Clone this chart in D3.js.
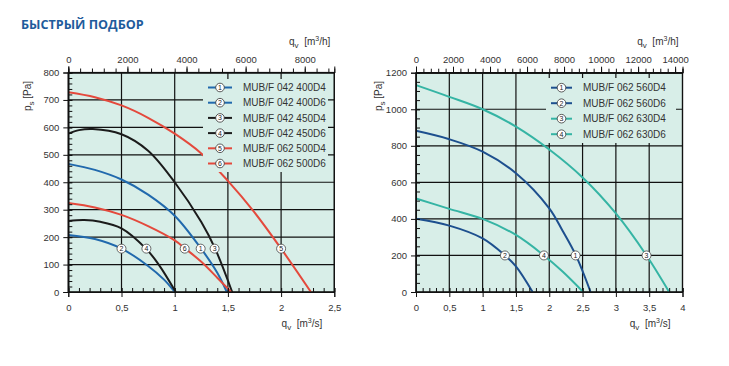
<!DOCTYPE html>
<html>
<head>
<meta charset="utf-8">
<script src="https://cdn.jsdelivr.net/npm/d3@7/dist/d3.min.js"></script>
<style>
    body { margin: 0; background: #fff; }
    text { font-family: "Liberation Sans", Arial, sans-serif; }
</style>
</head>
<body>
<svg id="chart" width="729" height="366"></svg>
<script>
// ---- data (q in m3/s, p in Pa) ----
var leftNames = ['MUB/F 042 400D4', 'MUB/F 042 400D6', 'MUB/F 042 450D4',
    'MUB/F 042 450D6', 'MUB/F 062 500D4', 'MUB/F 062 500D6'];
var left400D4 = [[0, 467], [0.25, 445], [0.5, 410], [0.75, 355], [1.0, 278], [1.25, 157], [1.4, 70], [1.49, 0]];
var left400D6 = [[0, 208], [0.25, 193], [0.5, 158], [0.75, 95], [0.9, 45], [1.0, 0]];
var left450D4 = [[0, 577], [0.1, 590], [0.23, 594], [0.5, 575], [0.75, 515], [1.0, 400], [1.25, 255], [1.38, 158], [1.54, 0]];
var left450D6 = [[0, 259], [0.15, 262], [0.3, 256], [0.5, 232], [0.73, 158], [0.85, 100], [1.01, 0]];
var left500D4 = [[0, 728], [0.25, 710], [0.5, 680], [0.75, 635], [1.0, 577], [1.25, 505], [1.5, 405], [1.75, 290], [2.0, 158], [2.28, 0]];
var left500D6 = [[0, 324], [0.25, 308], [0.5, 281], [0.75, 240], [1.0, 188], [1.1, 158], [1.25, 110], [1.4, 52], [1.53, 0]];
var leftSeries = [left400D4, left400D6, left450D4, left450D6, left500D4, left500D6];
// numbered markers on the curves: [q, p, number]
var leftMarkers = [[0.5, 158, '2'], [0.734, 158, '4'], [1.094, 158, '6'], [1.244, 158, '1'], [1.375, 158, '3'], [2.0, 158, '5']];

var rightNames = ['MUB/F 062 560D4', 'MUB/F 062 560D6', 'MUB/F 062 630D4', 'MUB/F 062 630D6'];
var right560D4 = [[0, 882], [0.5, 836], [1.0, 768], [1.5, 650], [2.0, 458], [2.2, 335], [2.4, 200], [2.62, 0]];
var right560D6 = [[0, 401], [0.5, 363], [1.0, 293], [1.335, 200], [1.5, 140], [1.75, 0]];
var right630D4 = [[0, 1132], [0.5, 1068], [1.0, 1000], [1.5, 905], [2.0, 780], [2.5, 627], [3.0, 430], [3.46, 200], [3.8, 0]];
var right630D6 = [[0, 512], [0.5, 455], [1.0, 400], [1.5, 312], [1.92, 200], [2.2, 112], [2.51, 0]];
var rightSeries = [right560D4, right560D6, right630D4, right630D6];
var rightMarkers = [[1.335, 200, '2'], [1.92, 200, '4'], [2.395, 200, '1'], [3.46, 200, '3']];

// ticks
var leftQsTicks = [0, 0.5, 1, 1.5, 2, 2.5];
var leftQhTicks = [0, 2000, 4000, 6000, 8000];
var leftPTicks = [0, 100, 200, 300, 400, 500, 600, 700, 800];
var rightQsTicks = [0, 0.5, 1, 1.5, 2, 2.5, 3, 3.5, 4];
var rightQhTicks = [0, 2000, 4000, 6000, 8000, 10000, 12000, 14000];
var rightPTicks = [0, 200, 400, 600, 800, 1000, 1200];

var svg = d3.select('#chart');

var comma = function (d) {
    return String(d).replace('.', ',');
};

var range = function (a, b, step) {
    var out = [];
    for (var i = 0; a + i * step <= b + 1e-9; i++) {
        out.push(+(a + i * step).toFixed(4));
    }
    return out;
};

svg.append('text')
    .attr('x', 21).attr('y', 29)
    .style('font-family', '"Open Sans", sans-serif')
    .style('font-weight', 'bold')
    .style('font-size', '12.6px')
    .style('fill', '#1f5c9c')
    .text('БЫСТРЫЙ ПОДБОР');

var drawPanel = function (p) {
    var g = svg.append('g');
    var x = d3.scaleLinear().domain([0, p.xMax]).range([p.left, p.right]);
    var y = d3.scaleLinear().domain([0, p.yMax]).range([p.bottom, p.top]);
    var xh = d3.scaleLinear().domain([0, p.xMax * 3600]).range([p.left, p.right]);

    g.append('rect')
        .attr('x', p.left).attr('y', p.top)
        .attr('width', p.right - p.left).attr('height', p.bottom - p.top)
        .style('fill', '#d8eee8');

    // grid
    g.selectAll('line.vg').data(p.qsTicks).enter().append('line')
        .attr('x1', x).attr('x2', x)
        .attr('y1', p.top).attr('y2', p.bottom)
        .style('stroke', '#111').style('stroke-width', 1.2);
    g.selectAll('line.hg').data(p.pTicks).enter().append('line')
        .attr('x1', p.left).attr('x2', p.right)
        .attr('y1', y).attr('y2', y)
        .style('stroke', '#111').style('stroke-width', 1.2);

    // curves
    var line = d3.line()
        .x(function (d) { return x(d[0]); })
        .y(function (d) { return y(d[1]); })
        .curve(d3.curveCatmullRom.alpha(0.5));
    g.selectAll('path.curve').data(p.series).enter().append('path')
        .attr('d', line)
        .style('fill', 'none')
        .style('stroke', function (d, i) { return p.colors[i]; })
        .style('stroke-width', 2);

    // legend box hides grid and curves behind it
    var lg = g.append('g');
    lg.append('rect')
        .attr('x', p.legend[0]).attr('y', p.legend[1])
        .attr('width', p.legend[2]).attr('height', p.legend[3])
        .style('fill', '#d8eee8');
    var row = lg.selectAll('g.row').data(p.names).enter().append('g')
        .attr('transform', function (d, i) {
            return 'translate(' + (p.legend[0] + 5) + ',' + (p.legendRow0 + i * p.legendStep) + ')';
        });
    row.append('line')
        .attr('x1', 0).attr('x2', p.symW).attr('y1', 0).attr('y2', 0)
        .style('stroke', function (d, i) { return p.colors[i]; })
        .style('stroke-width', 2);
    row.append('circle')
        .attr('cx', p.symW / 2).attr('cy', 0).attr('r', 4.3)
        .style('fill', '#fff').style('stroke', '#333').style('stroke-width', 0.8);
    row.append('text')
        .attr('x', p.symW / 2).attr('y', 2.5)
        .attr('text-anchor', 'middle')
        .style('font-size', '7px').style('fill', '#222')
        .text(function (d, i) { return i + 1; });
    row.append('text')
        .attr('x', p.symW + 11).attr('y', 3.6)
        .style('font-size', '10px').style('fill', '#333')
        .text(function (d) { return d; });

    // numbered markers on the curves
    var mk = g.selectAll('g.mk').data(p.markers).enter().append('g')
        .attr('transform', function (d) {
            return 'translate(' + x(d[0]) + ',' + y(d[1]) + ')';
        });
    mk.append('circle').attr('r', 4.5)
        .style('fill', '#fff').style('stroke', '#444').style('stroke-width', 0.8);
    mk.append('text').attr('y', 2.5).attr('text-anchor', 'middle')
        .style('font-size', '7px').style('fill', '#222')
        .text(function (d) { return d[2]; });

    // frame
    g.append('rect')
        .attr('x', p.left).attr('y', p.top)
        .attr('width', p.right - p.left).attr('height', p.bottom - p.top)
        .style('fill', 'none').style('stroke', '#111').style('stroke-width', 1.2);

    // bottom axis, m3/s
    g.append('g').attr('transform', 'translate(0,' + p.bottom + ')')
        .call(d3.axisBottom(x).tickValues(range(0, p.xMax, 0.1)).tickSize(-4).tickFormat(''));
    var bottomMajor = g.append('g').attr('transform', 'translate(0,' + p.bottom + ')')
        .call(d3.axisBottom(x).tickValues(p.qsTicks).tickSize(5).tickPadding(7).tickFormat(comma));
    bottomMajor.selectAll('.tick line').attr('y1', -4);

    // top axis, m3/h
    g.append('g').attr('transform', 'translate(0,' + p.top + ')')
        .call(d3.axisTop(xh).tickValues(range(0, p.xMax * 3600, 400)).tickSize(4).tickFormat(''));
    g.append('g').attr('transform', 'translate(0,' + p.top + ')')
        .call(d3.axisTop(xh).tickValues(p.qhTicks).tickSize(6).tickPadding(4).tickFormat(String));

    // left axis, Pa
    g.append('g').attr('transform', 'translate(' + p.left + ',0)')
        .call(d3.axisLeft(y).tickValues(range(0, p.yMax, p.pMinor)).tickSize(-4).tickFormat(''));
    var leftMajor = g.append('g').attr('transform', 'translate(' + p.left + ',0)')
        .call(d3.axisLeft(y).tickValues(p.pTicks).tickSize(5).tickPadding(4).tickFormat(String));
    leftMajor.selectAll('.tick line').attr('x1', 4);

    g.selectAll('.domain').style('stroke', '#111');
    g.selectAll('.tick line').style('stroke', '#111');
    g.selectAll('.tick text')
        .style('font-family', '"Liberation Sans", Arial, sans-serif')
        .style('font-size', '9.5px').style('fill', '#333');

    // axis titles
    var qTitle = function (xr, yb, unit) {
        var t = g.append('text').attr('x', xr).attr('y', yb)
            .attr('text-anchor', 'end')
            .style('font-size', '10px').style('fill', '#333');
        t.append('tspan').text('q');
        t.append('tspan').attr('dy', 3).style('font-size', '8px').text('v');
        t.append('tspan').attr('dy', -3).text('\u00a0 [m');
        t.append('tspan').attr('dy', -4).style('font-size', '7px').text('3');
        t.append('tspan').attr('dy', 4).text(unit);
    };
    qTitle(p.right - 4, 45, '/h]');
    qTitle(p.right - 12, 327, '/s]');

    var pt = g.append('text')
        .attr('transform', 'translate(' + p.yTitleX + ',96) rotate(-90)')
        .attr('text-anchor', 'middle')
        .style('font-size', '10px').style('fill', '#333');
    pt.append('tspan').text('p');
    pt.append('tspan').attr('dy', 3).style('font-size', '8px').text('s');
    pt.append('tspan').attr('dy', -3).text(' [Pa]');
};

drawPanel({
    left: 68.3, right: 334.3, top: 72.5, bottom: 292,
    xMax: 2.5, yMax: 800, pMinor: 20,
    qsTicks: leftQsTicks, qhTicks: leftQhTicks, pTicks: leftPTicks,
    series: leftSeries, names: leftNames, markers: leftMarkers,
    colors: ['#2169ad', '#2169ad', '#1b1b1b', '#1b1b1b', '#e4493c', '#e4493c'],
    legend: [203, 79, 125, 93], legendRow0: 87.5, legendStep: 15.2, symW: 24,
    yTitleX: 31
});

drawPanel({
    left: 416, right: 682.5, top: 72.7, bottom: 292,
    xMax: 4, yMax: 1200, pMinor: 50,
    qsTicks: rightQsTicks, qhTicks: rightQhTicks, pTicks: rightPTicks,
    series: rightSeries, names: rightNames, markers: rightMarkers,
    colors: ['#1d4f8e', '#1d4f8e', '#35b4a4', '#35b4a4'],
    legend: [546, 78, 130, 65], legendRow0: 87.7, legendStep: 15.5, symW: 21,
    yTitleX: 382
});
</script>
</body>
</html>
